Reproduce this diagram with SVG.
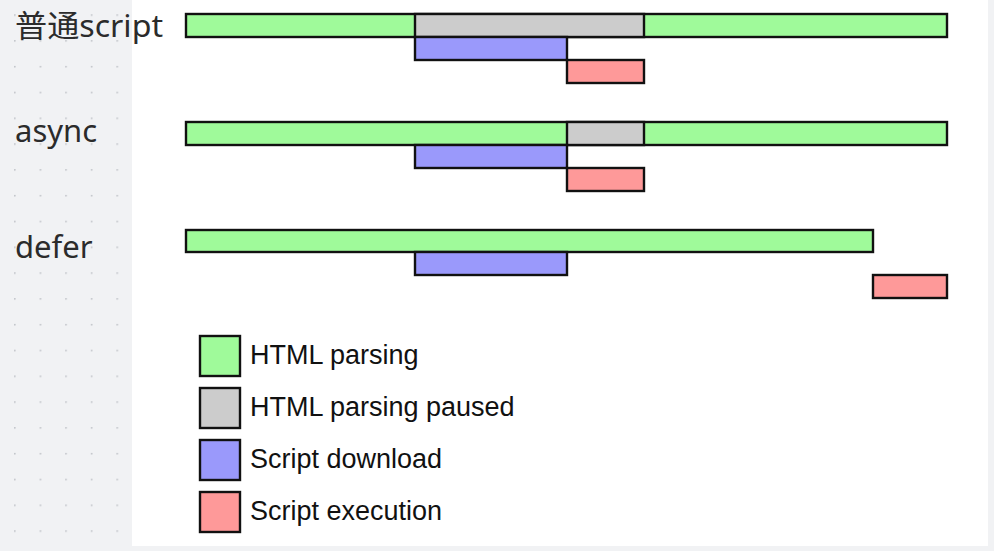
<svg xmlns="http://www.w3.org/2000/svg" width="994" height="551" viewBox="0 0 994 551">
<defs>
<pattern id="dots" x="14" y="14.3" width="25.6" height="25.8" patternUnits="userSpaceOnUse">
<circle cx="0.8" cy="0.8" r="0.9" fill="#bfc2c7"/>
</pattern>
<style>
.bar{stroke:#111;stroke-width:2.4}
.g{fill:#9ffa9a}.p{fill:#cccccc}.b{fill:#9a99fb}.r{fill:#fe9999}
.lbl{font-family:"Noto Sans","Noto Sans CJK SC",sans-serif;font-size:31px;fill:#2b2b2b}
.leg{font-family:"Liberation Sans",Arial,sans-serif;font-size:27px;fill:#111}
</style>
</defs>
<rect width="994" height="551" fill="#f1f2f4"/>
<rect x="0" y="0" width="132" height="551" fill="url(#dots)"/>
<rect x="132" y="0" width="856" height="546" fill="#ffffff"/>

<g id="row-normal">
<text class="lbl" x="15" y="37" textLength="148" lengthAdjust="spacingAndGlyphs">普通script</text>
<rect class="bar g" x="186" y="14" width="761" height="23"/>
<rect class="bar p" x="415" y="14" width="229" height="23"/>
<rect class="bar b" x="415" y="37" width="152" height="23"/>
<rect class="bar r" x="567" y="60" width="77" height="23"/>
</g>

<g id="row-async">
<text class="lbl" x="15" y="142">async</text>
<rect class="bar g" x="186" y="122" width="761" height="23"/>
<rect class="bar p" x="567" y="122" width="77" height="23"/>
<rect class="bar b" x="415" y="145" width="152" height="23"/>
<rect class="bar r" x="567" y="168" width="77" height="23"/>
</g>

<g id="row-defer">
<text class="lbl" x="15" y="258">defer</text>
<rect class="bar g" x="186" y="230" width="687" height="22"/>
<rect class="bar b" x="415" y="252" width="152" height="23"/>
<rect class="bar r" x="873" y="275" width="74" height="23"/>
</g>

<g id="legend">
<rect class="bar g" x="200" y="336" width="40" height="40"/>
<text class="leg" x="250" y="364">HTML parsing</text>
<rect class="bar p" x="200" y="388" width="40" height="40"/>
<text class="leg" x="250" y="416">HTML parsing paused</text>
<rect class="bar b" x="200" y="440" width="40" height="40"/>
<text class="leg" x="250" y="468">Script download</text>
<rect class="bar r" x="200" y="492" width="40" height="40"/>
<text class="leg" x="250" y="520">Script execution</text>
</g>

<g id="connectors"/>
</svg>
